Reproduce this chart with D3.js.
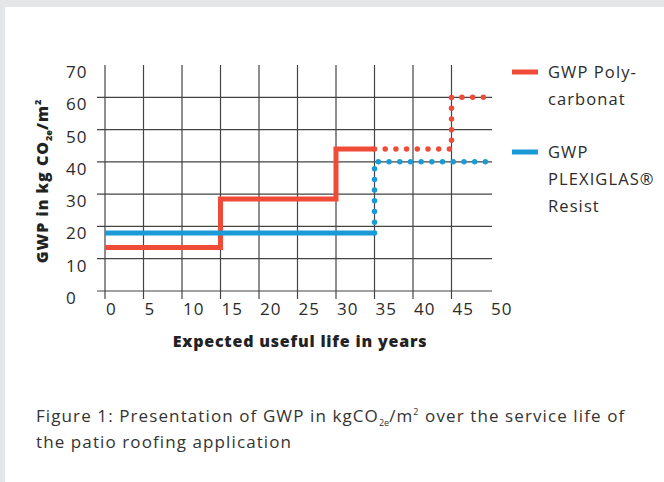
<!DOCTYPE html>
<html>
<head>
<meta charset="utf-8">
<script src="https://cdn.jsdelivr.net/npm/d3@7"></script>
<style>
  html, body { margin: 0; padding: 0; background: #e5e6e8; }
  svg { display: block; font-family: "Open Sans", Lato, sans-serif; }
</style>
</head>
<body>
<div class="chart"></div>
<script>
// step points: value holds from this year until the next one
const years = [0, 15, 30, 35, 45, 50];
const polycarbonat = [13.5, 28.5, 44, 44, 60, 60];
const plexiglas = [18, 18, 18, 40, 40, 40];
const measuredUntil = 35; // solid before, dotted (projection) after

const xTicks = [0, 5, 10, 15, 20, 25, 30, 35, 40, 45, 50];
const yTicks = [0, 10, 20, 30, 40, 50, 60, 70];

const seriesNames = [["GWP Poly-", "carbonat"], ["GWP", "PLEXIGLAS®", "Resist"]];
const seriesColors = ["#ef4b36", "#1a9bd7"];

var width = 664, height = 482;
var textColor = "#2b2b2b";
var gridColor = "#444";

var xScale = d3.scaleLinear().domain([0, 50]).range([105, 490]);
var yScale = d3.scaleLinear().domain([0, 70]).range([291, 65]);

var svg = d3.select(".chart").append("svg")
    .attr("width", width)
    .attr("height", height);

// panel
svg.append("rect").attr("width", width).attr("height", height).attr("fill", "#e5e6e8");
svg.append("rect").attr("x", 5).attr("y", 7)
    .attr("width", width - 5).attr("height", height - 7).attr("fill", "#fff");

function toPoints(values) {
    return years.map((y, i) => [y, values[i]]);
}

function splitSeries(values) {
    const pts = toPoints(values);
    const before = pts.filter(p => p[0] < measuredUntil);
    const last = before[before.length - 1][1];
    const solid = before.concat([[measuredUntil, last]]);
    const dotted = [[measuredUntil, last]].concat(pts.filter(p => p[0] >= measuredUntil));
    return {solid, dotted};
}

// grid
var grid = svg.append("g").attr("class", "grid");
grid.selectAll(".vline")
    .data(xTicks.filter(d => d < 50))
    .enter().append("line")
    .attr("x1", d => xScale(d)).attr("x2", d => xScale(d))
    .attr("y1", yScale(70)).attr("y2", yScale(0) + 8)
    .attr("stroke", gridColor).attr("stroke-width", 1.2);
grid.selectAll(".hline")
    .data(yTicks.filter(d => d < 70))
    .enter().append("line")
    .attr("x1", xScale(0) - 8).attr("x2", xScale(50) + 2)
    .attr("y1", d => yScale(d)).attr("y2", d => yScale(d))
    .attr("stroke", gridColor).attr("stroke-width", 1.2);

// tick labels (offset down/right of the lines, like the original)
svg.append("g").selectAll("text")
    .data(yTicks)
    .enter().append("text")
    .attr("x", 66)
    .attr("y", d => yScale(d) + 7)
    .attr("dy", "0.35em")
    .attr("font-size", 17)
    .attr("letter-spacing", 1)
    .attr("fill", textColor)
    .text(d => d);

svg.append("g").selectAll("text")
    .data(xTicks)
    .enter().append("text")
    .attr("x", d => xScale(d) + 1)
    .attr("y", yScale(0) + 18)
    .attr("dy", "0.35em")
    .attr("font-size", 17)
    .attr("letter-spacing", 1)
    .attr("fill", textColor)
    .text(d => d);

// axis titles
svg.append("text")
    .attr("x", 300).attr("y", 341)
    .attr("dy", "0.35em")
    .attr("text-anchor", "middle")
    .attr("font-size", 16)
    .attr("font-weight", 800)
    .attr("letter-spacing", 0.8)
    .attr("fill", "#222")
    .text("Expected useful life in years");

var yTitle = svg.append("text")
    .attr("transform", "translate(48,181) rotate(-90)")
    .attr("text-anchor", "middle")
    .attr("font-size", 16)
    .attr("font-weight", 800)
    .attr("letter-spacing", 1)
    .attr("fill", "#222");
yTitle.append("tspan").text("GWP in kg CO");
yTitle.append("tspan").attr("font-size", 9).attr("letter-spacing", 0).attr("dy", 4).text("2e");
yTitle.append("tspan").attr("dy", -4).text("/m");
yTitle.append("tspan").attr("font-size", 9).attr("dy", -7).text("2");

// lines
var line = d3.line()
    .x(d => xScale(d[0]))
    .y(d => yScale(d[1]))
    .curve(d3.curveStepAfter);

[polycarbonat, plexiglas].forEach((values, i) => {
    const parts = splitSeries(values);
    svg.append("path")
        .datum(parts.solid)
        .attr("d", line)
        .attr("fill", "none")
        .attr("stroke", seriesColors[i])
        .attr("stroke-width", 5);
    svg.append("path")
        .datum(parts.dotted)
        .attr("d", line)
        .attr("fill", "none")
        .attr("stroke", seriesColors[i])
        .attr("stroke-width", 5.5)
        .attr("stroke-linecap", "round")
        .attr("stroke-dasharray", "0 10.7");
});

// legend
var legend = svg.append("g").selectAll("g")
    .data(seriesNames)
    .enter().append("g")
    .attr("transform", (d, i) => `translate(512,${i === 0 ? 72 : 152})`);
legend.append("line")
    .attr("x1", 0).attr("x2", 26)
    .attr("stroke", (d, i) => seriesColors[i])
    .attr("stroke-width", 5);
legend.selectAll("text")
    .data(d => d)
    .enter().append("text")
    .attr("x", 36)
    .attr("y", (d, j) => j * 27)
    .attr("dy", "0.35em")
    .attr("font-size", 16.5)
    .attr("letter-spacing", 1.1)
    .attr("fill", textColor)
    .text(d => d);

// caption
var caption = svg.append("text")
    .attr("x", 36).attr("y", 422)
    .attr("font-size", 17)
    .attr("letter-spacing", 1.1)
    .attr("fill", "#333");
caption.append("tspan").text("Figure 1: Presentation of GWP in kgCO");
caption.append("tspan").attr("font-size", 9).attr("letter-spacing", 0).attr("dy", 4).text("2e");
caption.append("tspan").attr("dy", -4).text("/m");
caption.append("tspan").attr("font-size", 9).attr("dy", -7).text("2");
caption.append("tspan").attr("dy", 7).text(" over the service life of");
svg.append("text")
    .attr("x", 36).attr("y", 448)
    .attr("font-size", 17)
    .attr("letter-spacing", 1.1)
    .attr("fill", "#333")
    .text("the patio roofing application");
</script>
</body>
</html>
